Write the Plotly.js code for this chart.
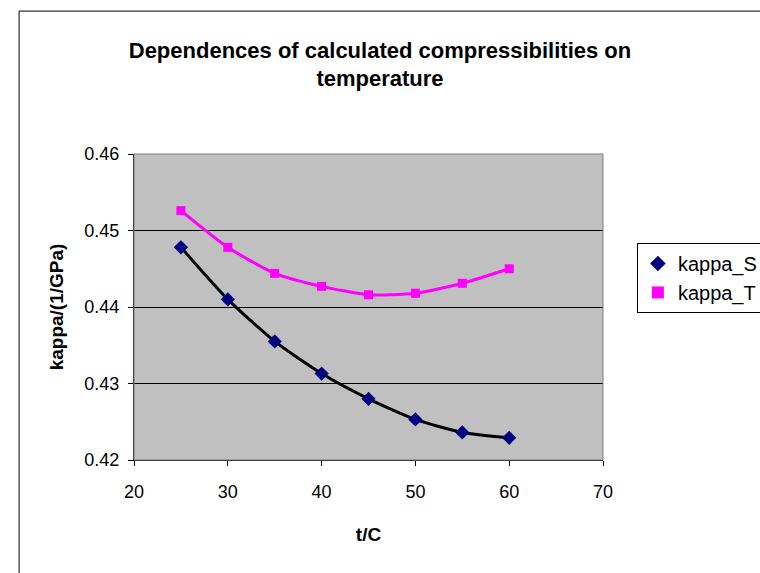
<!DOCTYPE html>
<html>
<head>
<meta charset="utf-8">
<script src="https://cdn.plot.ly/plotly-3.0.1.min.js"></script>
<style>html,body{margin:0;padding:0;background:#fff;}#chart{width:760px;height:573px;}</style>
</head>
<body>
<div id="chart"></div>
<script>
const temperature = [25, 30, 35, 40, 45, 50, 55, 60];
const kappaS = [0.4478, 0.4410, 0.4355, 0.4313, 0.4280, 0.4253, 0.4236, 0.4229];
const kappaT = [0.4526, 0.4478, 0.4444, 0.4427, 0.4416, 0.4418, 0.4431, 0.4450];
const xTicks = [20, 30, 40, 50, 60, 70];
const yTicks = [0.42, 0.43, 0.44, 0.45, 0.46];

const F = '"Liberation Sans", Arial, sans-serif';

const traces = [
  {
    x: temperature, y: kappaS, name: 'kappa_S', type: 'scatter', mode: 'lines',
    showlegend: false, hoverinfo: 'skip',
    line: {color: '#000000', width: 3, shape: 'spline', smoothing: 0.6}
  },
  {
    x: temperature, y: kappaT, name: 'kappa_T', type: 'scatter', mode: 'lines',
    showlegend: false, hoverinfo: 'skip',
    line: {color: '#FF00FF', width: 3, shape: 'spline', smoothing: 0.6}
  },
  {
    x: temperature, y: kappaS, name: 'kappa_S', type: 'scatter', mode: 'markers',
    marker: {symbol: 'diamond', size: 11, color: '#000080'}
  },
  {
    x: temperature, y: kappaT, name: 'kappa_T', type: 'scatter', mode: 'markers',
    marker: {symbol: 'square', size: 9, color: '#FF00FF'}
  }
];

const layout = {
  width: 760, height: 573,
  margin: {l: 134, r: 157, t: 154, b: 113},
  paper_bgcolor: '#ffffff',
  plot_bgcolor: '#C0C0C0',
  font: {family: F, size: 18, color: '#000'},
  title: {
    text: 'Dependences of calculated compressibilities on<br>temperature',
    font: {family: F, size: 22, color: '#000', weight: 'bold'},
    x: 0.5, xanchor: 'center', xref: 'container',
    y: 0.899, yanchor: 'middle', yref: 'container'
  },
  xaxis: {
    range: [20, 70], tickvals: xTicks, ticktext: xTicks.map(String),
    showgrid: false, zeroline: false,
    showline: true, linecolor: '#000', linewidth: 1,
    ticks: 'outside', ticklen: 5, tickcolor: '#000',
    ticklabelstandoff: 10,
    tickfont: {family: F, size: 18},
    title: {text: 't/C', font: {family: F, size: 19, weight: 'bold'}, standoff: 27},
    mirror: false
  },
  yaxis: {
    range: [0.42, 0.46], tickvals: yTicks, ticktext: yTicks.map(v => v.toFixed(2)),
    showgrid: true, gridcolor: '#000', gridwidth: 1, zeroline: false,
    showline: true, linecolor: '#000', linewidth: 1,
    ticks: 'outside', ticklen: 5, tickcolor: '#000',
    ticklabelstandoff: 5,
    tickfont: {family: F, size: 18},
    title: {text: 'kappa/(1/GPa)', font: {family: F, size: 19, weight: 'bold'}, standoff: 15}
  },
  showlegend: true,
  legend: {
    x: 0.838, y: 0.576, xref: 'container', yref: 'container',
    xanchor: 'left', yanchor: 'top',
    font: {family: F, size: 20},
    bordercolor: '#000', borderwidth: 1, bgcolor: '#fff',
    itemsizing: 'constant', tracegroupgap: 0, itemwidth: 30
  },
  shapes: [
    {type: 'rect', xref: 'paper', yref: 'paper', x0: 0, x1: 1, y0: 0, y1: 1,
     line: {color: '#808080', width: 1}, fillcolor: 'rgba(0,0,0,0)', layer: 'above'},
    {type: 'rect', xref: 'paper', yref: 'paper', x0: -0.245, x1: 1.6, y0: -0.6, y1: 1.467,
     line: {color: '#000', width: 1}, fillcolor: 'rgba(0,0,0,0)', layer: 'below'}
  ]
};

Plotly.newPlot('chart', traces, layout, {displayModeBar: false, staticPlot: true});
</script>
</body>
</html>
